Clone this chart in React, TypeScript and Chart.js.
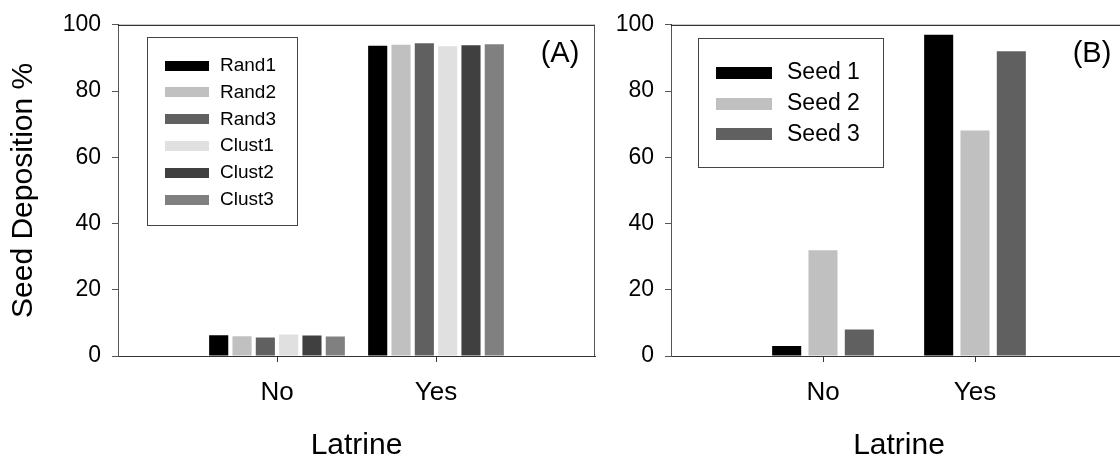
import React, { useEffect, useRef } from 'react';
import { Chart, registerables } from 'chart.js';
Chart.register(...registerables);

// ---- data ----
const categories = ['No', 'Yes'];
const yTickValues = [0, 20, 40, 60, 80, 100];

const seriesA = ['Rand1', 'Rand2', 'Rand3', 'Clust1', 'Clust2', 'Clust3'];
const rand1 = [6.3, 93.7];
const rand2 = [6.0, 94.0];
const rand3 = [5.6, 94.4];
const clust1 = [6.5, 93.5];
const clust2 = [6.2, 93.8];
const clust3 = [5.9, 94.1];

const seriesB = ['Seed 1', 'Seed 2', 'Seed 3'];
const seed1 = [3.0, 97.0];
const seed2 = [31.9, 68.1];
const seed3 = [8.0, 92.0];

const xTitle = 'Latrine';
const yTitle = 'Seed Deposition %';

// ---- styles ----
const FONT = '"Liberation Sans", Arial, Helvetica, sans-serif';
const colorsA = ['#000000', '#c0c0c0', '#606060', '#e0e0e0', '#404040', '#808080'];
const colorsB = ['#000000', '#c0c0c0', '#606060'];

const panelPlugin = {
  id: 'panelDecor',
  afterDraw(chart: any, _args: any, opts: any) {
    const { ctx, chartArea: a } = chart;
    ctx.save();
    ctx.lineWidth = 1;
    // top frame
    ctx.strokeStyle = '#000';
    ctx.beginPath();
    ctx.moveTo(a.left, a.top + 0.5);
    ctx.lineTo(a.right, a.top + 0.5);
    ctx.stroke();
    // right frame
    ctx.strokeStyle = '#555';
    ctx.beginPath();
    ctx.moveTo(a.right - 0.5, a.top);
    ctx.lineTo(a.right - 0.5, a.bottom);
    ctx.stroke();
    // panel label
    ctx.fillStyle = '#000';
    ctx.font = `29px ${FONT}`;
    ctx.textAlign = 'center';
    ctx.textBaseline = 'middle';
    ctx.fillText(opts.label, opts.labelX, opts.labelY);
    // legend
    const L = opts.legend;
    ctx.strokeStyle = '#444';
    ctx.strokeRect(L.x + 0.5, L.y + 0.5, L.w, L.h);
    ctx.font = `${L.fontSize}px ${FONT}`;
    ctx.textAlign = 'left';
    chart.data.datasets.forEach((ds: any, i: number) => {
      const cy = L.rowStart + i * L.rowGap;
      ctx.fillStyle = ds.backgroundColor;
      ctx.fillRect(L.swX, Math.round(cy - L.swH / 2), L.swW, L.swH);
      ctx.fillStyle = '#000';
      ctx.fillText(ds.label, L.textX, cy);
    });
    ctx.restore();
  },
};

function makeConfig(p: any) {
  const labels = ['', ...categories, ''];
  return {
    type: 'bar',
    data: {
      labels,
      datasets: p.names.map((n: string, i: number) => ({
        label: n,
        data: [null, ...p.values[i], null],
        backgroundColor: p.colors[i],
        borderWidth: 0,
        barPercentage: p.barPct,
        categoryPercentage: p.catPct,
      })),
    },
    options: {
      responsive: false,
      animation: false,
      layout: { padding: { left: p.padLeft, right: p.padRight, top: 21, bottom: 16 } },
      plugins: {
        legend: { display: false },
        tooltip: { enabled: false },
        panelDecor: p.decor,
      },
      scales: {
        x: {
          type: 'category',
          offset: false,
          afterFit: (s: any) => { s.height = 108; },
          grid: {
            offset: false,
            drawOnChartArea: false,
            drawTicks: true,
            tickLength: 6,
            tickColor: (c: any) => (c.index === 0 || c.index === labels.length - 1 ? 'rgba(0,0,0,0)' : '#333'),
          },
          border: { display: true, color: '#333', width: 1 },
          ticks: { color: '#000', font: { family: FONT, size: 26 }, padding: 15, maxRotation: 0, autoSkip: false },
          title: { display: true, text: xTitle, color: '#000', font: { family: FONT, size: 30 }, padding: { top: 0, bottom: 0 } },
        },
        y: {
          min: 0,
          max: 100,
          afterFit: (s: any) => { s.width = p.yWidth; },
          afterBuildTicks: (s: any) => { s.ticks = yTickValues.map((v) => ({ value: v })); },
          grid: { drawOnChartArea: false, drawTicks: true, tickLength: 6, tickColor: '#555' },
          border: { display: true, color: '#555', width: 1 },
          ticks: { color: '#000', font: { family: FONT, size: 23 }, padding: 11 },
          title: { display: p.showYTitle, text: yTitle, color: '#000', font: { family: FONT, size: 30 }, padding: { top: 0, bottom: 0 } },
        },
      },
    },
    plugins: [panelPlugin],
  };
}

export default function App() {
  const refA = useRef<HTMLCanvasElement>(null);
  const refB = useRef<HTMLCanvasElement>(null);

  useEffect(() => {
    const chartA = new Chart(refA.current as any, makeConfig({
      names: seriesA,
      values: [rand1, rand2, rand3, clust1, clust2, clust3],
      colors: colorsA,
      barPct: 0.82,
      catPct: 0.88,
      padLeft: 6,
      padRight: 15,
      yWidth: 112,
      showYTitle: true,
      decor: {
        label: '(A)', labelX: 560, labelY: 54,
        legend: { x: 147, y: 37, w: 150, h: 188, rowStart: 65.5, rowGap: 26.9, swX: 165, swW: 44, swH: 10, textX: 220, fontSize: 19 },
      },
    }) as any);
    const chartB = new Chart(refB.current as any, makeConfig({
      names: seriesB,
      values: [seed1, seed2, seed3],
      colors: colorsB,
      barPct: 0.8,
      catPct: 0.717,
      padLeft: 0,
      padRight: 33,
      yWidth: 71,
      showYTitle: false,
      decor: {
        label: '(B)', labelX: 492, labelY: 54,
        legend: { x: 98, y: 38, w: 185, h: 129, rowStart: 73, rowGap: 30.6, swX: 116, swW: 56, swH: 12, textX: 187, fontSize: 23 },
      },
    }) as any);
    return () => { chartA.destroy(); chartB.destroy(); };
  }, []);

  return (
    <div style={{ position: 'fixed', left: 0, top: 0, width: 1120, height: 459, overflow: 'hidden', background: '#fff' }}>
      <canvas ref={refA} width={610} height={480} style={{ position: 'absolute', left: 0, top: 0 }} />
      <canvas ref={refB} width={560} height={480} style={{ position: 'absolute', left: 600, top: 0 }} />
    </div>
  );
}
